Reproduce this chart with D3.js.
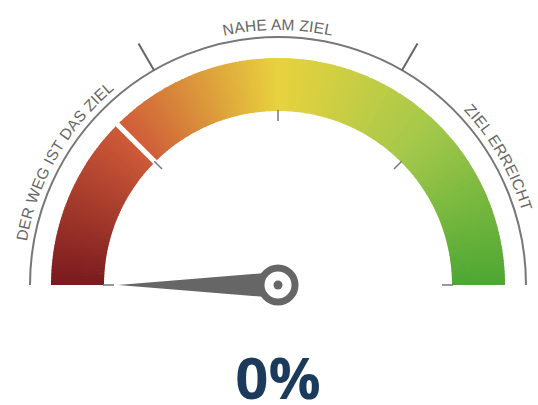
<!DOCTYPE html>
<html>
<head>
<meta charset="utf-8">
<script src="https://cdn.jsdelivr.net/npm/d3@7"></script>
<style>
  body { margin: 0; background: #fff; }
  svg { display: block; font-family: "Open Sans", "Liberation Sans", sans-serif; }
</style>
</head>
<body>
<svg id="chart" width="538" height="405"></svg>
<script>
// gauge data
const value = 0;
const domain = [0, 100];
const zoneLabels = ['DER WEG IST DAS ZIEL', 'NAHE AM ZIEL', 'ZIEL ERREICHT'];
const zoneCenters = [100 / 6, 50, 500 / 6];
const zoneBreaks = [100 / 3, 200 / 3];
const innerTicks = [0, 25, 50, 75, 100];
const bandGaps = [25];
const gradientStops = [0, 25, 50, 75, 100];
const gradientColors = ['#7a1a1f', '#cf5b38', '#e8d23e', '#a2c84a', '#4ca733'];

const cx = 278, cy = 285;
const rGuide = 248, rLabel = 255;
const rBandIn = 174, rBandOut = 227;

const svg = d3.select('#chart');
const g = svg.append('g').attr('transform', `translate(${[cx, cy]})`);

// value -> angle (0 = 12 o'clock, clockwise)
const angle = d3.scaleLinear().domain(domain).range([-Math.PI / 2, Math.PI / 2]);
const color = d3.scaleLinear().domain(gradientStops).range(gradientColors);

// colour band drawn as thin slices to fake an angular gradient
const steps = d3.range(domain[0], domain[1], 0.5);
const arc = d3.arc().innerRadius(rBandIn).outerRadius(rBandOut);
g.selectAll('path.slice')
  .data(steps)
  .join('path')
  .attr('class', 'slice')
  .attr('d', d => arc({ startAngle: angle(d), endAngle: Math.min(angle(d + 0.5) + 0.004, angle(domain[1])) }))
  .attr('fill', d => color(d + 0.25));

// white separators in the band
g.selectAll('line.gap')
  .data(bandGaps)
  .join('line')
  .attr('class', 'gap')
  .attr('x1', d => Math.sin(angle(d)) * (rBandIn - 2))
  .attr('y1', d => -Math.cos(angle(d)) * (rBandIn - 2))
  .attr('x2', d => Math.sin(angle(d)) * (rBandOut + 3))
  .attr('y2', d => -Math.cos(angle(d)) * (rBandOut + 3))
  .attr('stroke', '#fff')
  .attr('stroke-width', 5);

// small ticks inside the band
g.selectAll('line.inner-tick')
  .data(innerTicks)
  .join('line')
  .attr('class', 'inner-tick')
  .attr('x1', d => Math.sin(angle(d)) * 164)
  .attr('y1', d => -Math.cos(angle(d)) * 164)
  .attr('x2', d => Math.sin(angle(d)) * 175)
  .attr('y2', d => -Math.cos(angle(d)) * 175)
  .attr('stroke', '#777')
  .attr('stroke-width', 1.5);

// outer guide arc
const guide = d3.path();
guide.arc(0, 0, rGuide, Math.PI, 2 * Math.PI);
g.append('path')
  .attr('d', guide.toString())
  .attr('fill', 'none')
  .attr('stroke', '#777')
  .attr('stroke-width', 2);

g.selectAll('line.zone-tick')
  .data(zoneBreaks)
  .join('line')
  .attr('class', 'zone-tick')
  .attr('x1', d => Math.sin(angle(d)) * rGuide)
  .attr('y1', d => -Math.cos(angle(d)) * rGuide)
  .attr('x2', d => Math.sin(angle(d)) * 279)
  .attr('y2', d => -Math.cos(angle(d)) * 279)
  .attr('stroke', '#666')
  .attr('stroke-width', 2);

// labels along the arc
const labelPath = d3.path();
labelPath.arc(0, 0, rLabel, Math.PI, 2 * Math.PI);
g.append('path')
  .attr('id', 'label-arc')
  .attr('d', labelPath.toString())
  .attr('fill', 'none');

const pct = d3.scaleLinear().domain(domain).range([0, 100]);
g.selectAll('text.zone')
  .data(zoneLabels)
  .join('text')
  .attr('class', 'zone')
  .attr('font-family', '"Liberation Sans", Arial, sans-serif')
  .attr('font-size', 15.5)
  .attr('letter-spacing', 0.2)
  .attr('fill', '#666')
  .append('textPath')
  .attr('href', '#label-arc')
  .attr('startOffset', (d, i) => pct(zoneCenters[i]) + '%')
  .attr('text-anchor', 'middle')
  .text(d => d);

// needle
const a = angle(value);
const tipR = 160, baseW = 13;
const tip = [Math.sin(a) * tipR, -Math.cos(a) * tipR];
const b1 = [Math.cos(a) * baseW, Math.sin(a) * baseW];
const b2 = [-b1[0], -b1[1]];
g.append('path')
  .attr('d', d3.line()([tip, b1, b2]) + 'Z')
  .attr('fill', '#666');

g.append('circle')
  .attr('r', 17)
  .attr('fill', '#fff')
  .attr('stroke', '#666')
  .attr('stroke-width', 7);
g.append('circle')
  .attr('r', 4.5)
  .attr('fill', '#666');

// value text
svg.append('text')
  .attr('x', cx)
  .attr('y', 399)
  .attr('text-anchor', 'middle')
  .attr('font-size', 58)
  .attr('font-weight', 700)
  .attr('fill', '#1b3a5c')
  .text(d3.format('d')(value) + '%');
</script>
</body>
</html>
